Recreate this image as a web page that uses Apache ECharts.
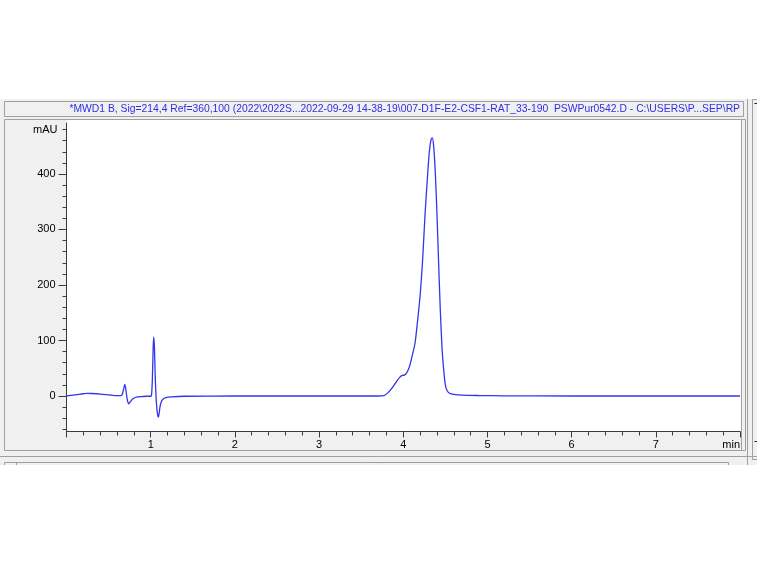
<!DOCTYPE html>
<html><head><meta charset="utf-8">
<script src="https://cdn.jsdelivr.net/npm/echarts@6/dist/echarts.min.js"></script>
<style>html,body{margin:0;padding:0;background:#fff}#c{width:757px;height:564px}</style>
</head><body><div id="c"></div>
<script>
// retention time (min)
const times = [0, 0.1, 0.2, 0.25, 0.3, 0.4, 0.5, 0.6, 0.64, 0.66, 0.675, 0.693, 0.705, 0.715, 0.725, 0.74, 0.76, 0.79, 0.83, 0.9, 0.95,
  1.0, 1.01, 1.02, 1.03, 1.037, 1.045, 1.055, 1.065, 1.075, 1.085, 1.092, 1.1, 1.11, 1.125, 1.145, 1.18, 1.25, 1.4, 2.0, 2.5, 3.0, 3.5, 3.7,
  3.77, 3.82, 3.87, 3.92, 3.96, 3.99, 4.02, 4.05, 4.08, 4.11, 4.14, 4.17, 4.2, 4.23, 4.26, 4.29, 4.31, 4.33, 4.345, 4.36, 4.38, 4.4,
  4.42, 4.44, 4.46, 4.48, 4.5, 4.52, 4.55, 4.6, 4.7, 4.9, 5.2, 6.0, 7.0, 8.0];
// absorbance (mAU)
const signal = [0, 2, 4, 4.8, 4.5, 3.5, 2, 0.5, 0.5, 2, 10, 21, 12, 0, -9, -14, -10, -5, -2, -1, -0.5,
  -0.5, 2, 30, 90, 106, 85, 30, -5, -25, -36, -38, -32, -20, -11, -6, -3, -1.5, -0.5, 0, 0, 0, 0, 0,
  0.5, 6, 15, 26, 34, 37, 38, 44, 56, 75, 95, 135, 180, 245, 330, 400, 440, 462, 465, 452, 405, 330,
  240, 155, 88, 48, 20, 10, 5, 3, 1.5, 0.8, 0.3, 0, 0, 0];

const yMinorTicks = [-60, -40, -20, 0, 20, 40, 60, 80, 100, 120, 140, 160, 180, 200, 220, 240, 260, 280, 300, 320, 340, 360, 380, 400, 420, 440, 460, 480];
const yMajorTicks = [0, 100, 200, 300, 400];
const yUnitTick = [480];
const yUnitLabel = 'mAU';
const xUnitLabel = 'min';
const titleText = '*MWD1 B, Sig=214,4 Ref=360,100 (2022\\2022S...2022-09-29 14-38-19\\007-D1F-E2-CSF1-RAT_33-190  PSWPur0542.D - C:\\USERS\\P...SEP\\RP';

const data = times.map((t, i) => [t, signal[i]]);
const chart = echarts.init(document.getElementById('c'), null, {renderer: 'canvas'});
const FONT = 'Liberation Sans, Arial, sans-serif';
const frame = '#a0a0a0';
const axisCol = '#3c3c3c';

chart.setOption({
  animation: false,
  backgroundColor: '#ffffff',
  graphic: [
    {type: 'rect', z: -20, shape: {x: 0, y: 99, width: 757, height: 366}, style: {fill: '#f0f0f0'}},
    {type: 'rect', z: -19, shape: {x: 4.5, y: 101.5, width: 739, height: 15}, style: {fill: '#f0f0f0', stroke: frame, lineWidth: 1}},
    {type: 'text', z: -18, style: {x: 740, y: 109.5, text: titleText, fill: '#2f2fe6', font: '10.35px ' + FONT, align: 'right', verticalAlign: 'middle'}},
    {type: 'rect', z: -19, shape: {x: 4.5, y: 119.5, width: 741, height: 331}, style: {fill: '#f0f0f0', stroke: frame, lineWidth: 1}},
    {type: 'rect', z: -18, shape: {x: 66, y: 120, width: 675, height: 312}, style: {fill: '#ffffff'}},
    {type: 'line', z: -18, shape: {x1: 741.5, y1: 120, x2: 741.5, y2: 450}, style: {stroke: frame, lineWidth: 1}},
    {type: 'line', z: -18, shape: {x1: 747.5, y1: 99, x2: 747.5, y2: 465}, style: {stroke: frame, lineWidth: 1}},
    {type: 'rect', z: -18, shape: {x: 752.5, y: 99.5, width: 10, height: 360}, style: {fill: '#f0f0f0', stroke: frame, lineWidth: 1}},
    {type: 'text', z: -17, style: {x: 754, y: 103, text: '-', fill: '#000', font: '11px ' + FONT, verticalAlign: 'middle'}},
    {type: 'text', z: -17, style: {x: 754, y: 441, text: '-', fill: '#000', font: '11px ' + FONT, verticalAlign: 'middle'}},
    {type: 'line', z: -18, shape: {x1: 0, y1: 456.5, x2: 757, y2: 456.5}, style: {stroke: frame, lineWidth: 1}},
    {type: 'rect', z: -18, shape: {x: 4.5, y: 462.5, width: 724, height: 10}, style: {fill: '#f0f0f0', stroke: frame, lineWidth: 1}},
    {type: 'line', z: -17, shape: {x1: 16.5, y1: 462.5, x2: 16.5, y2: 465}, style: {stroke: frame, lineWidth: 1}},
    {type: 'rect', z: -17, shape: {x: 0, y: 465, width: 757, height: 20}, style: {fill: '#ffffff'}}
  ],
  grid: {left: 66.5, right: 17, top: 122.9, bottom: 132.5, containLabel: false},
  xAxis: {
    type: 'value', min: 0, max: 8, interval: 1,
    axisLine: {show: true, onZero: false, lineStyle: {color: axisCol, width: 1}},
    axisTick: {show: true, length: 6, lineStyle: {color: axisCol}},
    minorTick: {show: true, splitNumber: 5, length: 4, lineStyle: {color: axisCol}},
    splitLine: {show: false}, minorSplitLine: {show: false},
    axisLabel: {
      color: '#000', fontFamily: FONT, fontSize: 11, margin: 8,
      alignMaxLabel: 'right',
      formatter: v => v === 0 ? '' : (v === 8 ? xUnitLabel : String(v))
    }
  },
  yAxis: [
    {
      type: 'value', min: -64, max: 492, position: 'left',
      axisLine: {show: true, onZero: false, lineStyle: {color: axisCol, width: 1}},
      axisTick: {show: true, length: 4, customValues: yMinorTicks, lineStyle: {color: axisCol}},
      axisLabel: {show: true, customValues: yUnitTick, color: '#000', fontFamily: FONT, fontSize: 11, margin: 9,
        formatter: () => yUnitLabel},
      splitLine: {show: false}
    },
    {
      type: 'value', min: -64, max: 492, position: 'left',
      axisLine: {show: false},
      axisTick: {show: true, length: 8, customValues: yMajorTicks, lineStyle: {color: axisCol}},
      axisLabel: {show: true, customValues: yMajorTicks, color: '#000', fontFamily: FONT, fontSize: 11, margin: 11},
      splitLine: {show: false}
    }
  ],
  series: [{
    type: 'line', data: data, showSymbol: false, smooth: 0.25,
    lineStyle: {color: '#3434ee', width: 1.3},
    clip: true
  }]
});
</script></body></html>
